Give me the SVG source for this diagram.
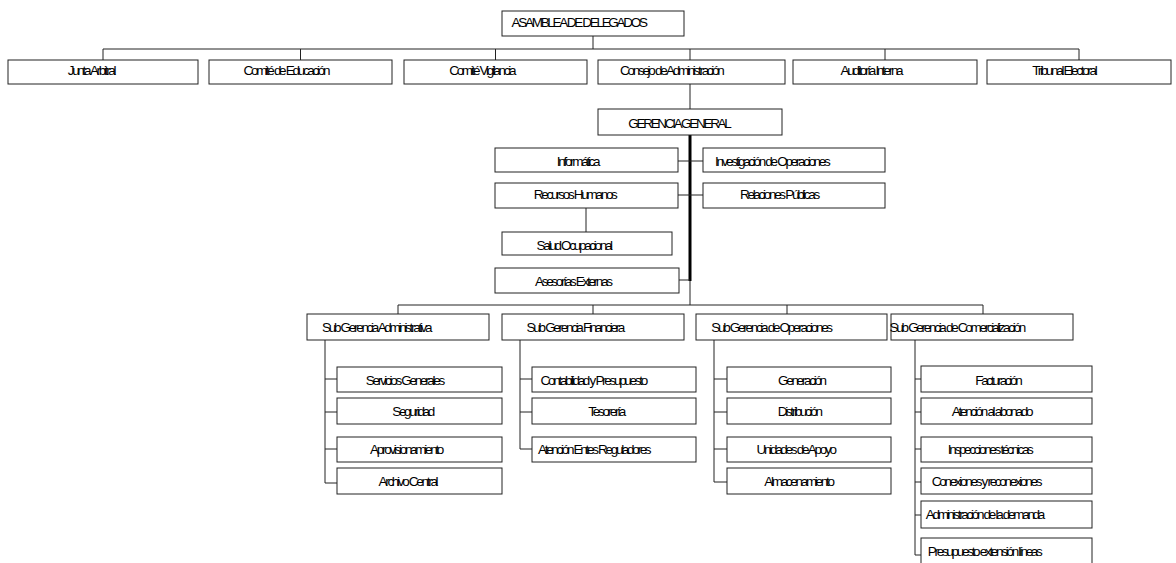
<svg xmlns="http://www.w3.org/2000/svg" width="1176" height="563" viewBox="0 0 1176 563">
<style>
rect.b{fill:#fff;stroke:#222;stroke-width:1}
text{font-family:"Liberation Sans",Arial,sans-serif;font-size:13.5px;letter-spacing:-2.3px;fill:#000}
.c line{stroke:#222;stroke-width:1}
.c line.t{stroke:#000;stroke-width:3}
</style>
<rect width="1176" height="563" fill="#fff"/>
<g class="c" id="connectors">
<line x1="593" y1="36" x2="593" y2="49"/>
<line x1="103" y1="49" x2="1079" y2="49"/>
<line x1="103" y1="49" x2="103" y2="60"/>
<line x1="300.5" y1="49" x2="300.5" y2="60"/>
<line x1="495.5" y1="49" x2="495.5" y2="60"/>
<line x1="690" y1="49" x2="690" y2="60"/>
<line x1="885" y1="49" x2="885" y2="60"/>
<line x1="1079" y1="49" x2="1079" y2="60"/>
<line x1="690" y1="84" x2="690" y2="109"/>
<line class="t" x1="690" y1="135" x2="690" y2="281"/>
<line x1="690" y1="281" x2="690" y2="305"/>
<line x1="678" y1="161" x2="703" y2="161"/>
<line x1="678" y1="195" x2="703" y2="195"/>
<line x1="679" y1="280" x2="690" y2="280"/>
<line x1="586" y1="208" x2="586" y2="232"/>
<line x1="398" y1="305" x2="983" y2="305"/>
<line x1="398" y1="305" x2="398" y2="314"/>
<line x1="593" y1="305" x2="593" y2="314"/>
<line x1="787" y1="305" x2="787" y2="314"/>
<line x1="983" y1="305" x2="983" y2="314"/>
<line x1="325" y1="340" x2="325" y2="483"/>
<line x1="325" y1="379" x2="337" y2="379"/>
<line x1="325" y1="412" x2="337" y2="412"/>
<line x1="325" y1="449" x2="337" y2="449"/>
<line x1="325" y1="483" x2="337" y2="483"/>
<line x1="520" y1="340" x2="520" y2="449"/>
<line x1="520" y1="379" x2="532" y2="379"/>
<line x1="520" y1="412" x2="532" y2="412"/>
<line x1="520" y1="449" x2="532" y2="449"/>
<line x1="714" y1="340" x2="714" y2="482"/>
<line x1="714" y1="379" x2="727" y2="379"/>
<line x1="714" y1="412" x2="727" y2="412"/>
<line x1="714" y1="449" x2="727" y2="449"/>
<line x1="714" y1="482" x2="727" y2="482"/>
<line x1="915" y1="340" x2="915" y2="555"/>
<line x1="915" y1="379" x2="921" y2="379"/>
<line x1="915" y1="412" x2="921" y2="412"/>
<line x1="915" y1="449" x2="921" y2="449"/>
<line x1="915" y1="482" x2="921" y2="482"/>
<line x1="915" y1="515" x2="921" y2="515"/>
<line x1="915" y1="555" x2="921" y2="555"/>
</g>
<g id="asamblea"><rect class="b" x="502" y="11" width="182" height="25"/><text x="511.6" y="27">ASAMBLEA DE DELEGADOS</text></g>
<g id="junta"><rect class="b" x="8" y="60" width="190" height="24"/><text x="67.7" y="75">Junta Arbitral</text></g>
<g id="comite-educacion"><rect class="b" x="209" y="60" width="183" height="24"/><text x="243.5" y="75">Comité de Educación</text></g>
<g id="comite-vigilancia"><rect class="b" x="404" y="60" width="183" height="24"/><text x="449.2" y="75">Comité Vigilancia</text></g>
<g id="consejo"><rect class="b" x="598" y="60" width="187" height="24"/><text x="620.1" y="75">Consejo de Administración</text></g>
<g id="auditoria"><rect class="b" x="793" y="60" width="184" height="24"/><text x="840.6" y="75">Auditoría Interna</text></g>
<g id="tribunal"><rect class="b" x="987" y="60" width="184" height="24"/><text x="1032.3" y="75">Tribunal Electoral</text></g>
<g id="gerencia"><rect class="b" x="598" y="109" width="184" height="26"/><text x="628.3" y="128">GERENCIA GENERAL</text></g>
<g id="informatica"><rect class="b" x="495" y="148" width="183" height="24"/><text x="556.8" y="166">Informática</text></g>
<g id="investigacion"><rect class="b" x="703" y="148" width="182" height="24"/><text x="715" y="166">Investigación de Operaciones</text></g>
<g id="rrhh"><rect class="b" x="495" y="183" width="183" height="25"/><text x="533.8" y="199">Recursos Humanos</text></g>
<g id="relaciones"><rect class="b" x="703" y="183" width="182" height="25"/><text x="740" y="199">Relaciones Públicas</text></g>
<g id="salud"><rect class="b" x="502" y="232" width="170" height="23"/><text x="536.6" y="250">Salud Ocupacional</text></g>
<g id="asesorias"><rect class="b" x="495" y="268" width="184" height="25"/><text x="535" y="286">Asesorías Externas</text></g>
<g id="sg-admin"><rect class="b" x="307" y="314" width="182" height="26"/><text x="322" y="332">Sub Gerencia Administrativa</text></g>
<g id="sg-fin"><rect class="b" x="502" y="314" width="182" height="26"/><text x="526.6" y="332">Sub Gerencia Financiera</text></g>
<g id="sg-op"><rect class="b" x="696" y="314" width="191" height="26"/><text x="711.3" y="332">Sub Gerencia de Operaciones</text></g>
<g id="sg-com"><rect class="b" x="891" y="314" width="182" height="26"/><text x="889.6" y="332">Sub Gerencia de Comercialización</text></g>
<g id="servicios"><rect class="b" x="337" y="367" width="165" height="25"/><text x="365.8" y="385">Servicios Generales</text></g>
<g id="seguridad"><rect class="b" x="337" y="398" width="165" height="26"/><text x="392.2" y="416">Seguridad</text></g>
<g id="aprovisionamiento"><rect class="b" x="337" y="437" width="165" height="25"/><text x="370.1" y="454">Aprovisionamiento</text></g>
<g id="archivo"><rect class="b" x="337" y="468" width="165" height="26"/><text x="378.5" y="486">Archivo Central</text></g>
<g id="contabilidad"><rect class="b" x="532" y="367" width="164" height="25"/><text x="540.6" y="385">Contabilidad y Presupuesto</text></g>
<g id="tesoreria"><rect class="b" x="532" y="398" width="164" height="26"/><text x="588.3" y="416">Tesorería</text></g>
<g id="entes"><rect class="b" x="532" y="437" width="164" height="25"/><text x="538" y="454">Atención Entes Reguladores</text></g>
<g id="generacion"><rect class="b" x="727" y="367" width="164" height="25"/><text x="778" y="385">Generación</text></g>
<g id="distribucion"><rect class="b" x="727" y="398" width="164" height="26"/><text x="777.7" y="416">Distribución</text></g>
<g id="unidades"><rect class="b" x="727" y="437" width="164" height="25"/><text x="756.6" y="454">Unidades de Apoyo</text></g>
<g id="almacenamiento"><rect class="b" x="727" y="468" width="164" height="26"/><text x="764.3" y="486">Almacenamiento</text></g>
<g id="facturacion"><rect class="b" x="921" y="366" width="171" height="26"/><text x="975.2" y="385">Facturación</text></g>
<g id="abonado"><rect class="b" x="921" y="398" width="171" height="26"/><text x="951.8" y="416">Atención al abonado</text></g>
<g id="inspecciones"><rect class="b" x="921" y="437" width="171" height="25"/><text x="947.8" y="454">Inspecciones técnicas</text></g>
<g id="conexiones"><rect class="b" x="921" y="468" width="171" height="26"/><text x="931.8" y="486">Conexiones y reconexiones</text></g>
<g id="demanda"><rect class="b" x="921" y="501" width="171" height="27"/><text x="925.8" y="519">Administración de la demanda</text></g>
<g id="presupuesto-lineas"><rect class="b" x="921" y="538" width="171" height="30"/><text x="927.8" y="556">Presupuesto extensión líneas</text></g>
</svg>
